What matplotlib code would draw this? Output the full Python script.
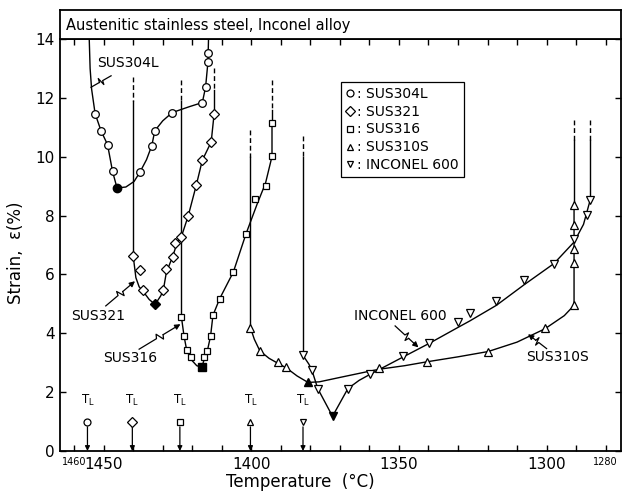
import numpy as np
import matplotlib
matplotlib.use("Agg")
import matplotlib.pyplot as plt
from matplotlib.lines import Line2D

# --- measured points (temperature degC, strain %) ---
sus304l_t = [1452.9, 1450.9, 1448.7, 1447.0, 1437.7, 1433.7, 1432.7, 1426.8, 1416.6, 1415.5, 1414.6, 1414.6]
sus304l_s = [11.46, 10.88, 10.41, 9.50, 9.48, 10.38, 10.88, 11.50, 11.84, 12.36, 13.21, 13.51]
sus304l_min = (1445.5, 8.94)

sus321_t = [1440.0, 1437.8, 1436.7, 1429.8, 1428.8, 1426.5, 1425.9, 1423.7, 1421.4, 1418.6, 1416.6, 1413.6, 1412.7]
sus321_s = [6.62, 6.15, 5.47, 5.47, 6.17, 6.60, 7.07, 7.28, 7.98, 9.05, 9.88, 10.50, 11.46]
sus321_min = (1432.6, 4.98)

sus316_t = [1423.7, 1422.8, 1421.9, 1420.5, 1416.0, 1414.9, 1413.8, 1413.0, 1410.7, 1406.1, 1401.8, 1398.8, 1395.2, 1393.0, 1393.0]
sus316_s = [4.57, 3.91, 3.43, 3.18, 3.18, 3.40, 3.91, 4.61, 5.18, 6.08, 7.38, 8.57, 8.99, 10.01, 11.16]
sus316_min = (1416.8, 2.84)

sus310s_t = [1400.3, 1397.1, 1391.0, 1388.1, 1356.6, 1340.6, 1319.8, 1300.6, 1290.7, 1290.7, 1290.7, 1290.7, 1290.7]
sus310s_s = [4.19, 3.40, 3.01, 2.85, 2.81, 3.01, 3.38, 4.19, 4.95, 6.40, 6.87, 7.69, 8.37]
sus310s_min = (1380.8, 2.33)

inconel_t = [1382.5, 1379.5, 1377.5, 1367.3, 1359.7, 1348.5, 1339.7, 1329.9, 1325.9, 1317.0, 1307.6, 1297.5, 1290.7, 1286.4, 1285.2]
inconel_s = [3.25, 2.75, 2.12, 2.12, 2.61, 3.23, 3.68, 4.38, 4.70, 5.10, 5.81, 6.37, 7.19, 8.03, 8.54]
inconel_min = (1372.5, 1.18)

# --- hand drawn fitted curves ---
sus304l_curve_t = [1454.9, 1454.6, 1454.1, 1452.9, 1450.9, 1448.7, 1447.0, 1445.5, 1442.5, 1439.7, 1437.7,
                   1435.5, 1433.7, 1432.7, 1430.0, 1426.8, 1421.0, 1416.6, 1415.5, 1414.7, 1414.5]
sus304l_curve_s = [14.0, 13.0, 12.3, 11.46, 10.88, 10.41, 9.50, 8.94, 8.97, 9.16, 9.48,
                   9.90, 10.38, 10.88, 11.22, 11.50, 11.70, 11.84, 12.36, 13.21, 14.0]

sus321_curve_t = [1440.0, 1439.1, 1438.0, 1436.7, 1434.6, 1432.6, 1430.7, 1429.8, 1428.8, 1426.8,
                  1425.1, 1423.7, 1421.4, 1418.6, 1416.6, 1413.6, 1412.6]
sus321_curve_s = [6.62, 5.89, 5.58, 5.43, 5.15, 4.98, 5.27, 5.47, 6.06, 6.57,
                  7.07, 7.28, 7.98, 9.05, 9.88, 10.50, 11.46]

sus316_curve_t = [1423.7, 1422.8, 1421.9, 1420.5, 1418.5, 1416.8, 1416.0, 1414.9, 1413.8, 1413.0,
                  1410.7, 1406.1, 1401.8, 1398.0, 1395.2, 1393.0, 1393.0]
sus316_curve_s = [4.57, 3.91, 3.43, 3.12, 2.90, 2.84, 3.10, 3.40, 3.91, 4.61,
                  5.18, 6.08, 7.38, 8.40, 9.10, 10.01, 11.16]

sus310s_curve_t = [1400.3, 1399.0, 1397.1, 1394.0, 1391.0, 1388.1, 1384.5, 1380.8, 1377.0, 1370.0,
                   1361.0, 1356.6, 1348.0, 1340.6, 1330.0, 1319.8, 1310.0, 1300.6, 1294.0, 1290.7, 1290.7]
sus310s_curve_s = [4.19, 3.80, 3.40, 3.15, 2.98, 2.82, 2.55, 2.33, 2.35, 2.50,
                   2.69, 2.78, 2.90, 3.03, 3.20, 3.38, 3.70, 4.15, 4.60, 4.95, 8.37]

inconel_curve_t = [1382.5, 1380.5, 1379.5, 1377.5, 1372.5, 1367.3, 1363.5, 1359.7, 1348.5, 1339.7,
                   1330.0, 1326.0, 1317.0, 1307.6, 1297.5, 1290.7, 1287.5, 1285.2]
inconel_curve_s = [3.25, 2.95, 2.75, 2.12, 1.18, 2.12, 2.40, 2.61, 3.20, 3.66,
                   4.20, 4.42, 4.95, 5.65, 6.37, 7.10, 7.70, 8.54]

# vertical guide lines: temperature, dashed top, dashed bottom, solid end
vline_t = [1440.0, 1423.8, 1412.6, 1400.3, 1393.0, 1382.5, 1290.7, 1285.2]
vline_dash_top = [12.7, 12.6, 13.0, 10.9, 12.6, 10.7, 11.25, 11.25]
vline_dash_bot = [11.9, 11.9, 12.27, 10.0, 11.6, 10.0, 10.58, 10.58]
vline_end = [6.62, 4.57, 11.46, 4.19, 11.16, 3.25, 8.37, 8.54]

# liquidus temperatures
tl_t = [1455.5, 1440.3, 1424.2, 1400.3, 1382.5]
tl_marker = ['o', 'D', 's', '^', 'v']

names = ['SUS304L', 'SUS321', 'SUS316', 'SUS310S', 'INCONEL 600']
markers = ['o', 'D', 's', '^', 'v']
msizes = [5.5, 5.0, 5.0, 5.5, 5.5]

fig = plt.figure(figsize=(6.36, 5.01), dpi=100)
ax = fig.add_axes([60 / 636, 50 / 501, 561 / 636, 412 / 501])
tax = fig.add_axes([60 / 636, 462 / 501, 561 / 636, 29 / 501])
tax.set_xticks([])
tax.set_yticks([])
for sp in tax.spines.values():
    sp.set_linewidth(1.3)
tax.text(0.01, 0.45, 'Austenitic stainless steel, Inconel alloy', fontsize=10.5,
         transform=tax.transAxes, ha='left', va='center')

ax.set_xlim(1464.8, 1274.8)
ax.set_ylim(0, 14)
for sp in ax.spines.values():
    sp.set_linewidth(1.3)

lw = 1.0
series = [
    (sus304l_t, sus304l_s, sus304l_min, sus304l_curve_t, sus304l_curve_s),
    (sus321_t, sus321_s, sus321_min, sus321_curve_t, sus321_curve_s),
    (sus316_t, sus316_s, sus316_min, sus316_curve_t, sus316_curve_s),
    (sus310s_t, sus310s_s, sus310s_min, sus310s_curve_t, sus310s_curve_s),
    (inconel_t, inconel_s, inconel_min, inconel_curve_t, inconel_curve_s),
]
for (t, s, mn, ct, cs), m, ms in zip(series, markers, msizes):
    ax.plot(ct, cs, color='black', lw=lw, zorder=2)
    ax.plot(t, s, ls='none', marker=m, ms=ms, mfc='white', mec='black', mew=0.9, zorder=3)
    ax.plot([mn[0]], [mn[1]], ls='none', marker=m, ms=ms + 0.5, mfc='black', mec='black', zorder=4)

for t, dt, db, e in zip(vline_t, vline_dash_top, vline_dash_bot, vline_end):
    ax.plot([t, t], [dt, db], color='black', lw=lw, ls=(0, (3.5, 2)))
    ax.plot([t, t], [db, e], color='black', lw=lw)

# liquidus markers with arrows
for t, m in zip(tl_t, tl_marker):
    ax.plot([t], [1.0], marker=m, ms=5, mfc='white', mec='black', mew=0.9, zorder=4)
    ax.annotate('', xy=(t, 0.0), xytext=(t, 0.82),
                arrowprops=dict(arrowstyle='-|>', lw=0.9, color='black',
                                mutation_scale=7, shrinkA=0, shrinkB=0))
    ax.text(t, 1.45, r'T$_\mathrm{L}$', fontsize=8.5, ha='center', va='bottom')


def leader(p0, p1, arrow=True):
    tr = ax.transData
    a = np.array(tr.transform(p0))
    b = np.array(tr.transform(p1))
    d = b - a
    u = d / np.hypot(*d)
    n = np.array([-u[1], u[0]])
    pts = [a, a + 0.42 * d, a + 0.46 * d + 4 * n, a + 0.54 * d - 4 * n, a + 0.58 * d, b]
    dp = tr.inverted().transform(np.array(pts))
    ax.plot(dp[:-1, 0], dp[:-1, 1], color='black', lw=0.9)
    if arrow:
        ax.annotate('', xy=tuple(dp[-1]), xytext=tuple(dp[-2]),
                    arrowprops=dict(arrowstyle='-|>', lw=0.9, color='black',
                                    mutation_scale=8, shrinkA=0, shrinkB=0))
    else:
        ax.plot(dp[-2:, 0], dp[-2:, 1], color='black', lw=0.9)


ax.text(1452.2, 13.2, 'SUS304L', fontsize=10, ha='left', va='center')
leader((1447.5, 12.75), (1454.3, 12.36), arrow=False)
ax.text(1451.8, 4.58, 'SUS321', fontsize=10, ha='center', va='center')
leader((1449.3, 4.93), (1439.4, 5.77))
ax.text(1441.0, 3.15, 'SUS316', fontsize=10, ha='center', va='center')
leader((1438.0, 3.46), (1424.0, 4.31))
ax.text(1349.7, 4.60, 'INCONEL 600', fontsize=10, ha='center', va='center')
leader((1351.3, 4.25), (1343.4, 3.52))
ax.text(1296.2, 3.19, 'SUS310S', fontsize=10, ha='center', va='center')
leader((1300.0, 3.48), (1306.3, 3.97))

# legend
handles = [Line2D([], [], ls='none', marker=m, ms=5, mfc='white', mec='black', mew=0.9)
           for m in markers]
leg = ax.legend(handles, [': ' + n for n in names], loc='upper left',
                bbox_to_anchor=(0.5, 0.896), fontsize=10, handlelength=0.6,
                handletextpad=0.25, labelspacing=0.28, borderpad=0.35,
                borderaxespad=0, fancybox=False, framealpha=1, edgecolor='black')
leg.get_frame().set_linewidth(0.9)

# ticks
major_x = [1460, 1450, 1400, 1350, 1300, 1280]
ax.set_xticks(list(range(1460, 1279, -10)))
ax.set_xticklabels([str(v) if v in major_x else '' for v in range(1460, 1279, -10)])
for lab, v in zip(ax.get_xticklabels(), range(1460, 1279, -10)):
    if v in (1460, 1280):
        lab.set_fontsize(7)
    else:
        lab.set_fontsize(11)
ax.set_yticks(range(0, 15, 2))
ax.tick_params(axis='y', labelsize=11)
ax.tick_params(direction='in', top=True, right=True, length=4.5, width=1.0, pad=4)

fig.text(300 / 636, 1 - 482 / 501, 'Temperature  (°C)', fontsize=12, ha='center', va='center')
ax.set_ylabel('Strain,  ε(%)', fontsize=12)
ax.yaxis.set_label_coords(-0.062, 0.48)

fig.savefig('out.png', dpi=100)
